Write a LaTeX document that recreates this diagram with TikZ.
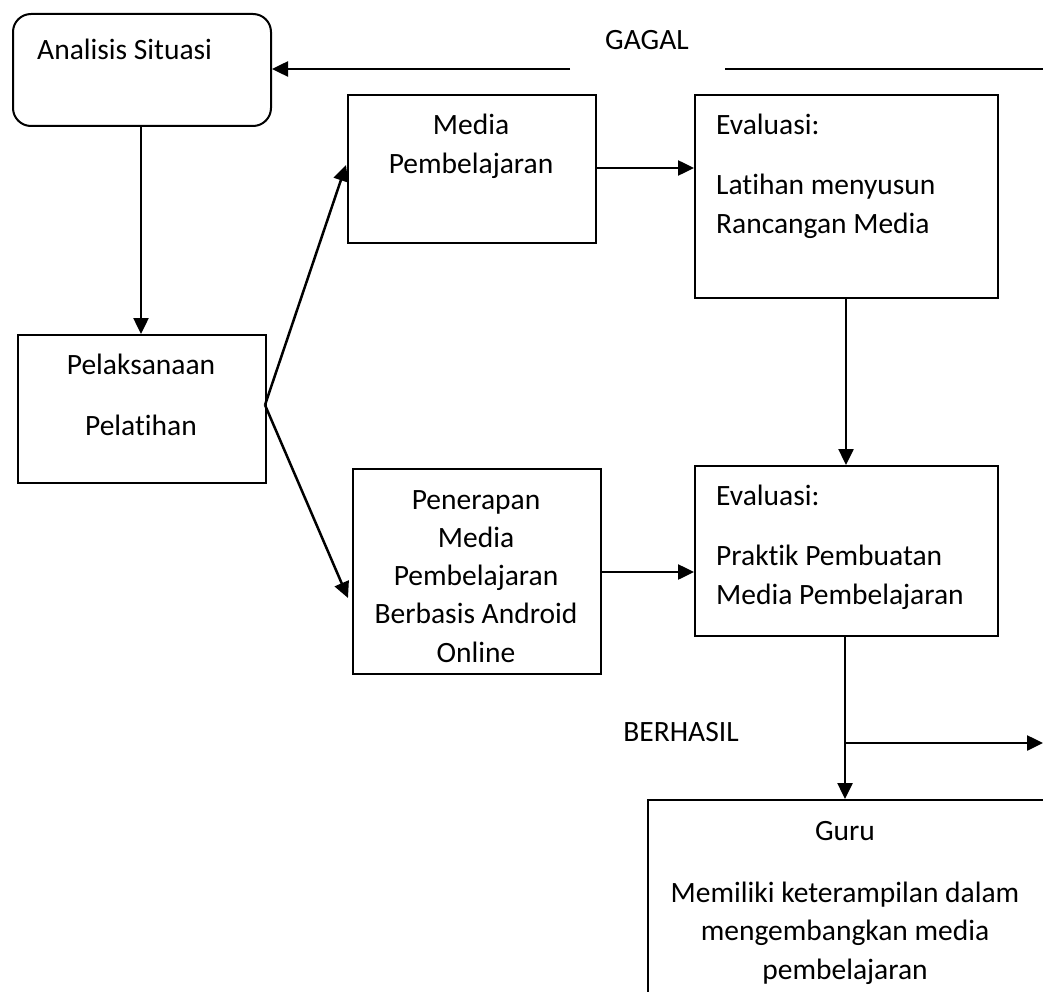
\documentclass[tikz,border=0pt]{standalone}
\usepackage{fontspec}
\setmainfont[Ligatures=NoCommon]{Carlito}
\usetikzlibrary{arrows.meta}
\begin{document}
\begin{tikzpicture}[x=1pt,y=-1pt,
  box/.style={draw, line width=2pt, anchor=north west, inner sep=0pt},
  lbl/.style={font=\fontsize{29.5}{38}\selectfont, inner sep=0pt, anchor=base},
  lblw/.style={lbl, anchor=base west},
  conn/.style={line width=2.5pt, -{Triangle[length=16pt,width=15pt]}},
  plain/.style={line width=2.5pt}]
\useasboundingbox (0,0) rectangle (1043,992);

% boxes
\node[box, rounded corners=18pt, minimum width=258pt, minimum height=112pt] (ana) at (12,13) {};
\node[box, minimum width=248pt, minimum height=148pt] (med) at (347,94) {};
\node[box, minimum width=303pt, minimum height=203pt] (ev1) at (694,94) {};
\node[box, minimum width=248pt, minimum height=148pt] (pel) at (17,334) {};
\node[box, minimum width=248pt, minimum height=205pt] (pen) at (352,468) {};
\node[box, minimum width=303pt, minimum height=170pt] (ev2) at (694,465) {};
\begin{scope}
  \clip (0,0) rectangle (1043,992);
  \node[box, minimum width=420pt, minimum height=240pt] (guru) at (647,799) {};
\end{scope}

% texts
\node[lblw] (tana) at (37,60) {Analisis Situasi};
\node[lbl] (tgagal) at (647,50) {GAGAL};
\node[lbl] (tmed1) at (471,135) {Media};
\node[lbl] (tmed2) at (471,174) {Pembelajaran};
\node[lblw] (tev1a) at (716,135) {Evaluasi:};
\node[lblw] (tev1b) at (716,195) {Latihan menyusun};
\node[lblw] (tev1c) at (716,234) {Rancangan Media};
\node[lbl] (tpel1) at (141,374) {Pelaksanaan};
\node[lbl] (tpel2) at (141,435) {Pelatihan};
\node[lbl] (tpen1) at (476,509) {Penerapan};
\node[lbl] (tpen2) at (476,547) {Media};
\node[lbl] (tpen3) at (476,585) {Pembelajaran};
\node[lbl] (tpen4) at (476,623) {Berbasis Android};
\node[lbl] (tpen5) at (476,662) {Online};
\node[lblw] (tev2a) at (716,505) {Evaluasi:};
\node[lblw] (tev2b) at (716,565) {Praktik Pembuatan};
\node[lblw] (tev2c) at (716,604) {Media Pembelajaran};
\node[lbl] (tber) at (681,741) {BERHASIL};
\node[lbl] (tguru1) at (845,840) {Guru};
\node[lbl] (tguru2) at (845,902) {Memiliki keterampilan dalam};
\node[lbl] (tguru3) at (845,940) {mengembangkan media};
\node[lbl] (tguru4) at (845,979) {pembelajaran};

% connector coordinates
\coordinate (gl) at (570,69);
\coordinate (gr1) at (725,69);
\coordinate (gr2) at (1043,69);
\coordinate (pelout) at (265,405);
\coordinate (medin) at (346,165);
\coordinate (penin) at (348,598);
\coordinate (br) at (845,743);
\coordinate (brend) at (1043,743);

% connectors
\draw[conn] (gl) -- (ana.east |- gl);
\draw[plain] (gr1) -- (gr2);
\draw[conn] (ana.south -| 141,0) -- (pel.north -| 141,0);
\draw[conn] (pelout) -- (medin);
\draw[conn] (pelout) -- (penin);
\draw[conn] (med.east |- 0,168) -- (ev1.west |- 0,168);
\draw[conn] (pen.east |- 0,572) -- (ev2.west |- 0,572);
\draw[conn] (ev1.south -| 846,0) -- (ev2.north -| 846,0);
\draw[conn] (ev2.south -| 845,0) -- (guru.north -| 845,0);
\draw[conn] (br) -- (brend);
\end{tikzpicture}
\end{document}
